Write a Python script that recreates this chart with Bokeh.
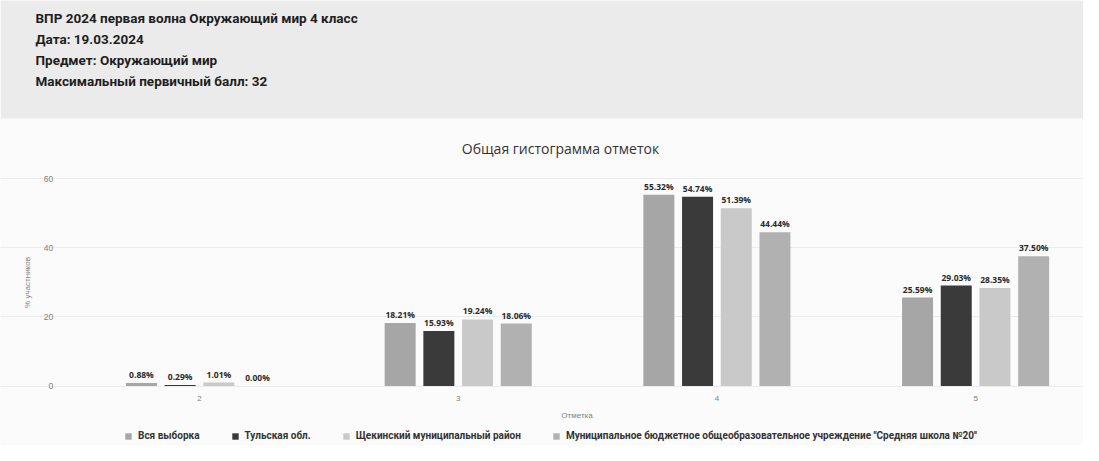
from bokeh.plotting import figure
from bokeh.models import (Range1d, FixedTicker, Label, Legend, LegendItem,
                          ColumnDataSource, LabelSet, BoxAnnotation)
from bokeh.core.properties import value
from bokeh.transform import dodge
from bokeh.embed import file_html
from bokeh.resources import INLINE

# ---------------- data ----------------
header_lines = [
    "ВПР 2024 первая волна Окружающий мир 4 класс",
    "Дата: 19.03.2024",
    "Предмет: Окружающий мир",
    "Максимальный первичный балл: 32",
]
chart_title = "Общая гистограмма отметок"
x_axis_title = "Отметка"
y_axis_title = "% участников"

categories = ["2", "3", "4", "5"]
y_ticks = [0, 20, 40, 60]

series_names = [
    "Вся выборка",
    "Тульская обл.",
    "Щекинский муниципальный район",
    "Муниципальное бюджетное общеобразовательное учреждение ''Средняя школа №20''",
]
vsya_vyborka = [0.88, 18.21, 55.32, 25.59]
tulskaya_obl = [0.29, 15.93, 54.74, 29.03]
shchekinsky = [1.01, 19.24, 51.39, 28.35]
shkola_20 = [0.00, 18.06, 44.44, 37.50]

series_values = [vsya_vyborka, tulskaya_obl, shchekinsky, shkola_20]
series_colors = ["#a6a6a6", "#3a3a3a", "#c9c9c9", "#b1b1b1"]

# ---------------- geometry (pixels) ----------------
W, H = 1083, 445
BASE = 385.5          # pixel row of the value 0
PX_Y = 207.5 / 60     # pixels per percent
PX_X = 258.7          # pixels per category
C1 = 199              # pixel column of the first category centre

y_lo = -(H - BASE) / PX_Y
y_hi = BASE / PX_Y
x_lo = 1 - C1 / PX_X
x_hi = x_lo + W / PX_X

pos = [i + 1 for i in range(len(categories))]
src = {"x": pos}
for k, vals in enumerate(series_values):
    src[f"v{k}"] = vals
    src[f"l{k}"] = [f"{v:.2f}%" for v in vals]
source = ColumnDataSource(src)

p = figure(width=W, height=H, output_backend="svg", toolbar_location=None,
           x_range=Range1d(x_lo, x_hi), y_range=Range1d(y_lo, y_hi),
           min_border=0, min_border_left=0, min_border_right=0,
           min_border_top=0, min_border_bottom=0)
p.background_fill_color = "#fbfbfb"
p.border_fill_color = "#fbfbfb"
p.outline_line_color = None

# header band
p.add_layout(BoxAnnotation(bottom=(BASE - 118) / PX_Y, fill_color="#ebebeb",
                           fill_alpha=1.0, line_color=None, level="underlay"))

for i, line in enumerate(header_lines):
    p.add_layout(Label(x=35, y=H - 17 - 21 * i, x_units="screen", y_units="screen",
                       text=line, text_font="Roboto", text_font_style="bold",
                       text_font_size="13.5px", text_color="#1e1e1e",
                       text_baseline="middle", text_align="left"))

p.add_layout(Label(x=560, y=H - 148, x_units="screen", y_units="screen",
                   text=chart_title, text_font="Open Sans", text_font_size="14px",
                   text_color="#333333", text_baseline="middle", text_align="center"))

step = 38.7 / PX_X
offsets = [(-1.5 + k) * step for k in range(4)]
items = []
for k in range(4):
    r = p.vbar(x=dodge("x", offsets[k], range=p.x_range), top=f"v{k}", width=31 / PX_X,
               source=source, fill_color=series_colors[k], line_color=None)
    items.append(LegendItem(label=series_names[k], renderers=[r]))
    p.add_layout(LabelSet(x=dodge("x", offsets[k], range=p.x_range), y=f"v{k}",
                          text=f"l{k}", source=source, y_offset=3,
                          text_align="center", text_baseline="bottom",
                          text_font=value("Open Sans"), text_font_style="bold",
                          text_font_size="8.5px", text_color="#2a2a2a"))

p.yaxis.fixed_location = 0.5
p.yaxis.bounds = (0, 60)
p.yaxis.ticker = FixedTicker(ticks=y_ticks)
p.yaxis.axis_line_color = None
p.yaxis.major_tick_line_color = None
p.yaxis.minor_tick_line_color = None
p.yaxis.major_label_text_font_size = "8.5px"
p.yaxis.major_label_text_color = "#808080"
p.yaxis.major_label_standoff = 11
p.yaxis.axis_label = y_axis_title
p.yaxis.axis_label_text_font_size = "8px"
p.yaxis.axis_label_text_font_style = "normal"
p.yaxis.axis_label_text_color = "#808080"
p.yaxis.axis_label_standoff = 9

p.xaxis.fixed_location = 0
p.xaxis.bounds = (0.5, 4.5)
p.xaxis.ticker = FixedTicker(ticks=pos)
p.xaxis.major_label_overrides = {x: c for x, c in zip(pos, categories)}
p.xaxis.axis_line_color = None
p.xaxis.major_tick_line_color = None
p.xaxis.minor_tick_line_color = None
p.xaxis.major_label_text_font_size = "8px"
p.xaxis.major_label_text_color = "#808080"
p.xaxis.major_label_standoff = 4
p.xaxis.axis_label = x_axis_title
p.xaxis.axis_label_text_font_size = "8px"
p.xaxis.axis_label_text_font_style = "normal"
p.xaxis.axis_label_text_color = "#808080"
p.xaxis.axis_label_standoff = 6

p.xgrid.visible = False
p.ygrid.ticker = FixedTicker(ticks=y_ticks)
p.ygrid.grid_line_color = "#dcdcdc"
p.ygrid.grid_line_dash = "1 1"

legend = Legend(items=items, orientation="horizontal", location=(124, H - 441),
                label_text_font="Roboto", label_text_font_style="bold",
                label_text_font_size="10px", label_text_color="#333333",
                glyph_width=8, glyph_height=8, label_standoff=6, spacing=31,
                label_height=10, border_line_color=None, background_fill_alpha=0,
                padding=2, margin=0)
p.add_layout(legend)

open("out.html", "w").write(file_html(p, INLINE))
